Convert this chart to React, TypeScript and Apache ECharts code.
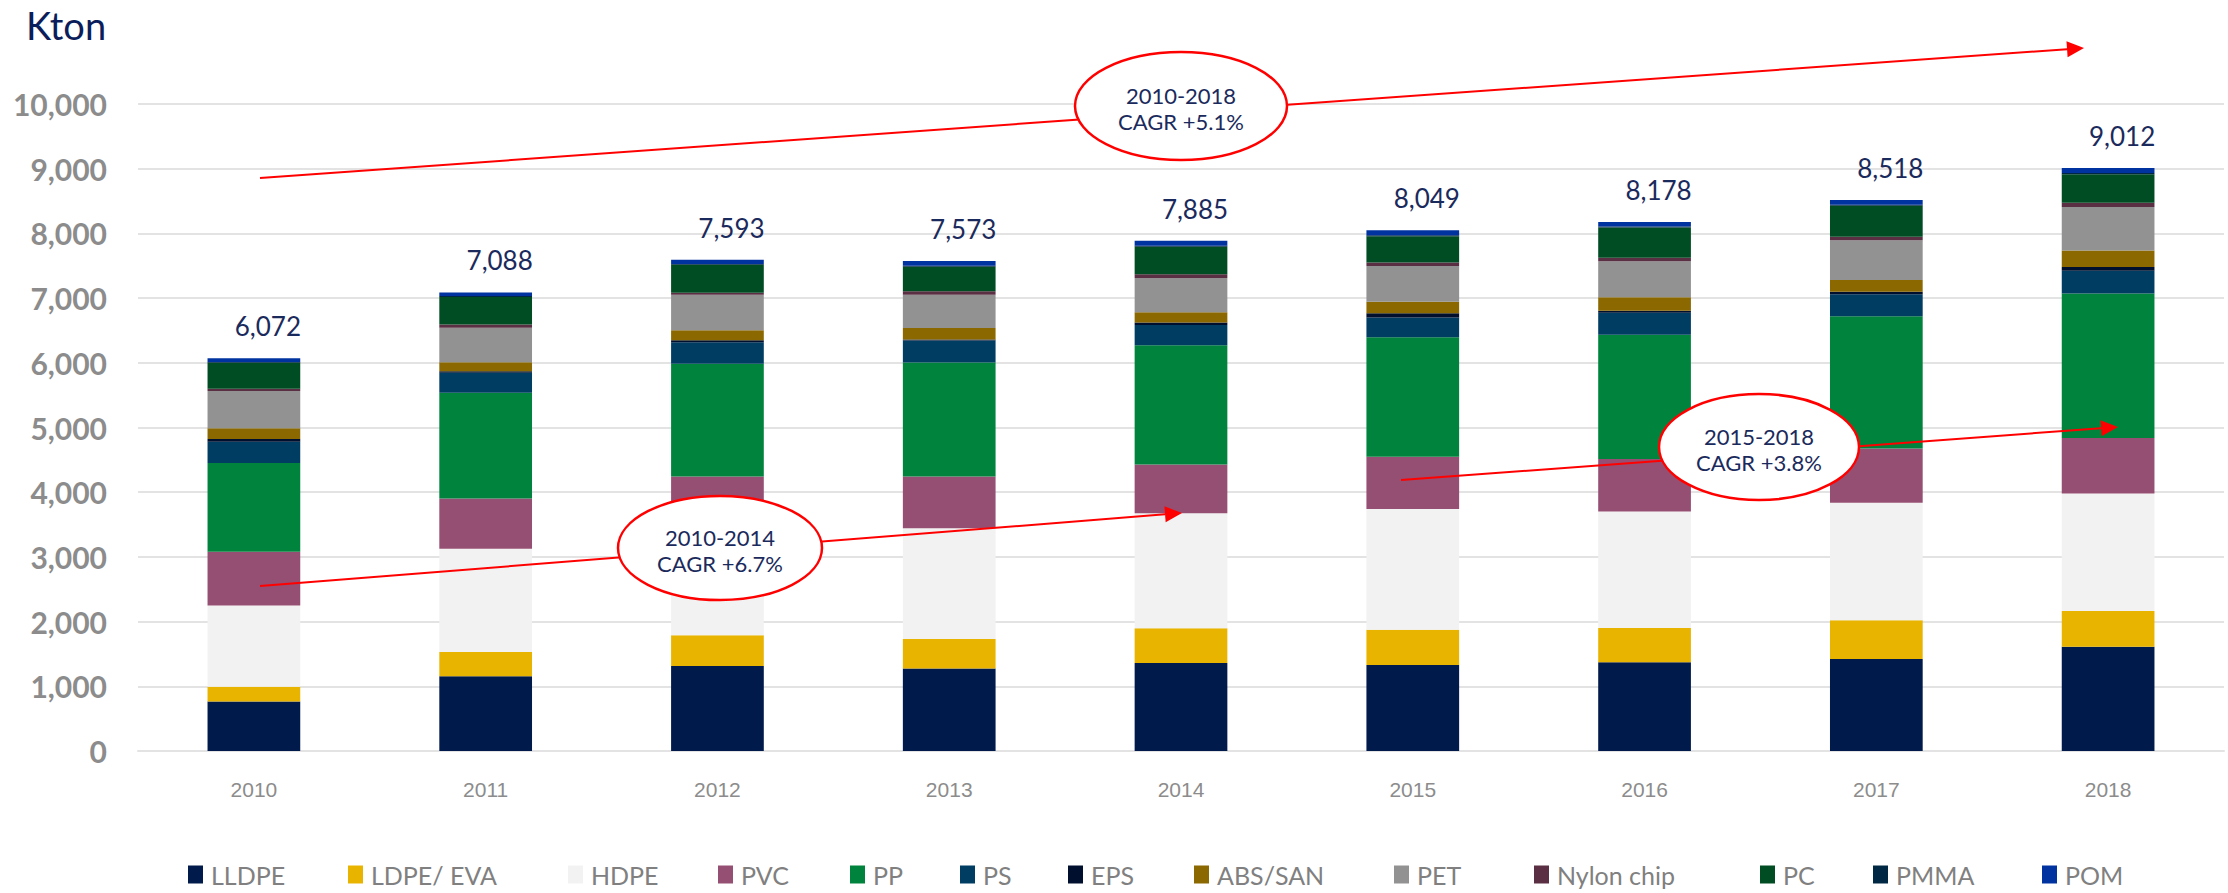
import React, { useEffect, useRef } from "react";
import * as echarts from "echarts";

const years = ["2010", "2011", "2012", "2013", "2014", "2015", "2016", "2017", "2018"];
const LLDPE = [766, 1157, 1313, 1274, 1360, 1330, 1370, 1422, 1610];
const LDPE_EVA = [226, 375, 475, 458, 539, 545, 533, 597, 552];
const HDPE = [1255, 1594, 1650, 1711, 1774, 1864, 1798, 1819, 1819];
const PVC = [833, 776, 805, 800, 755, 809, 812, 837, 857];
const PP = [1372, 1635, 1743, 1760, 1845, 1845, 1922, 2046, 2233];
const PS = [329, 309, 331, 342, 312, 306, 338, 337, 351];
const EPS = [42, 25, 33, 16, 36, 66, 32, 39, 59];
const ABS_SAN = [164, 139, 155, 177, 161, 179, 208, 182, 253];
const PET = [576, 530, 546, 513, 528, 551, 558, 617, 675];
const NYLON = [36, 51, 33, 55, 60, 54, 52, 52, 65];
const PC = [401, 427, 430, 380, 425, 408, 468, 480, 442];
const PMMA = [12, 14, 14, 15, 15, 15, 15, 15, 16];
const POM = [60, 56, 65, 72, 75, 77, 72, 75, 80];
const totals = [6072, 7088, 7593, 7573, 7885, 8049, 8178, 8518, 9012];

const seriesDefs = [
  { name: "LLDPE", data: LLDPE, color: "#001A4B" },
  { name: "LDPE/ EVA", data: LDPE_EVA, color: "#E8B400" },
  { name: "HDPE", data: HDPE, color: "#F2F2F2" },
  { name: "PVC", data: PVC, color: "#954F72" },
  { name: "PP", data: PP, color: "#00843D" },
  { name: "PS", data: PS, color: "#003D63" },
  { name: "EPS", data: EPS, color: "#000F2E" },
  { name: "ABS/SAN", data: ABS_SAN, color: "#8B6900" },
  { name: "PET", data: PET, color: "#929292" },
  { name: "Nylon chip", data: NYLON, color: "#5A2E43" },
  { name: "PC", data: PC, color: "#004D23" },
  { name: "PMMA", data: PMMA, color: "#002845" },
  { name: "POM", data: POM, color: "#0033A0" },
];

// legend item left edges (layout)
const legendLefts = [188, 348, 568, 718, 850, 960, 1068, 1194, 1394, 1534, 1760, 1873, 2042];

const annotations = [
  { cx: 1181, cy: 106, rx: 106, ry: 54, l1: "2010-2018", l2: "CAGR +5.1%", from: [260, 178], to: [2084, 48] },
  { cx: 720, cy: 548, rx: 102, ry: 52, l1: "2010-2014", l2: "CAGR +6.7%", from: [260, 586], to: [1182, 513] },
  { cx: 1759, cy: 447, rx: 100, ry: 53, l1: "2015-2018", l2: "CAGR +3.8%", from: [1401, 480], to: [2118, 427] },
];

function arrowElems(from: number[], to: number[]) {
  const [x1, y1] = from;
  const [x2, y2] = to;
  const dx = x2 - x1;
  const dy = y2 - y1;
  const len = Math.sqrt(dx * dx + dy * dy);
  const ux = dx / len;
  const uy = dy / len;
  const headLen = 17;
  const half = 8;
  const bx = x2 - ux * headLen;
  const by = y2 - uy * headLen;
  const px = -uy;
  const py = ux;
  return [
    {
      type: "line",
      z: 100,
      shape: { x1, y1, x2: bx, y2: by },
      style: { stroke: "#FF0000", lineWidth: 2 },
    },
    {
      type: "polygon",
      z: 100,
      shape: {
        points: [
          [x2, y2],
          [bx + px * half, by + py * half],
          [bx - px * half, by - py * half],
        ],
      },
      style: { fill: "#FF0000" },
    },
  ];
}

export default function App() {
  const ref = useRef<HTMLDivElement>(null);
  useEffect(() => {
    if (!ref.current) return;
    const chart = echarts.init(ref.current, null, { renderer: "svg" });

    const series: any[] = seriesDefs.map((s, idx) => ({
      name: s.name,
      type: "bar",
      stack: "total",
      data: s.data,
      barWidth: "40%",
      itemStyle: { color: s.color },
      emphasis: { disabled: true },
      label:
        idx === seriesDefs.length - 1
          ? {
              show: true,
              position: "top",
              distance: 19,
              offset: [14, 0],
              fontSize: 26,
              fontFamily: "Lato",
              color: "#1B2A5C",
              formatter: (p: any) => totals[p.dataIndex].toLocaleString("en-US"),
            }
          : { show: false },
    }));

    const graphics: any[] = [];
    annotations.forEach((a) => {
      graphics.push(...arrowElems(a.from, a.to));
    });
    annotations.forEach((a) => {
      graphics.push({
        type: "ellipse",
        z: 101,
        shape: { cx: a.cx, cy: a.cy, rx: a.rx, ry: a.ry },
        style: { fill: "#FFFFFF", stroke: "#FF0000", lineWidth: 2.5 },
      });
      graphics.push({
        type: "text",
        z: 102,
        x: a.cx,
        y: a.cy + 2,
        style: {
          text: a.l1 + "\n" + a.l2,
          fontSize: 22,
          lineHeight: 26,
          fontFamily: "Lato",
          fill: "#1B2A5C",
          align: "center",
          verticalAlign: "middle",
        },
      });
    });
    graphics.push({
      type: "text",
      x: 26,
      y: 25,
      style: {
        text: "Kton",
        fontSize: 38,
        fontFamily: "Lato",
        fill: "#0B1E5B",
        align: "left",
        verticalAlign: "middle",
      },
    });

    const legends = seriesDefs.map((s, i) => ({
      data: [s.name],
      left: legendLefts[i],
      top: 862,
      icon: "rect",
      itemWidth: 15,
      itemHeight: 18,
      itemGap: 0,
      padding: 0,
      selectedMode: false,
      textStyle: { fontSize: 25, fontFamily: "Lato", color: "#808080", padding: [0, 0, 0, 3] },
    }));

    chart.setOption({
      animation: false,
      backgroundColor: "#FFFFFF",
      grid: { left: 138, right: 4, top: 104, bottom: 142, containLabel: false },
      legend: legends,
      xAxis: {
        type: "category",
        data: years,
        axisTick: { show: false },
        axisLine: { show: true, lineStyle: { color: "#E3E3E3", width: 2 } },
        axisLabel: {
          fontSize: 21,
          fontFamily: "Liberation Sans",
          color: "#8C8C8C",
          margin: 28,
        },
      },
      yAxis: {
        type: "value",
        min: 0,
        max: 10000,
        interval: 1000,
        axisLine: { show: false },
        axisTick: { show: false },
        splitLine: { lineStyle: { color: "#E3E3E3", width: 2 } },
        axisLabel: {
          fontSize: 30,
          fontWeight: "bold",
          fontFamily: "Lato",
          color: "#8C8C8C",
          margin: 31,
          formatter: (v: number) => v.toLocaleString("en-US"),
        },
      },
      series,
      graphic: graphics,
    });

    return () => chart.dispose();
  }, []);

  return (
    <div
      ref={ref}
      style={{ position: "fixed", left: 0, top: 0, width: 2228, height: 893, background: "#fff" }}
    />
  );
}
